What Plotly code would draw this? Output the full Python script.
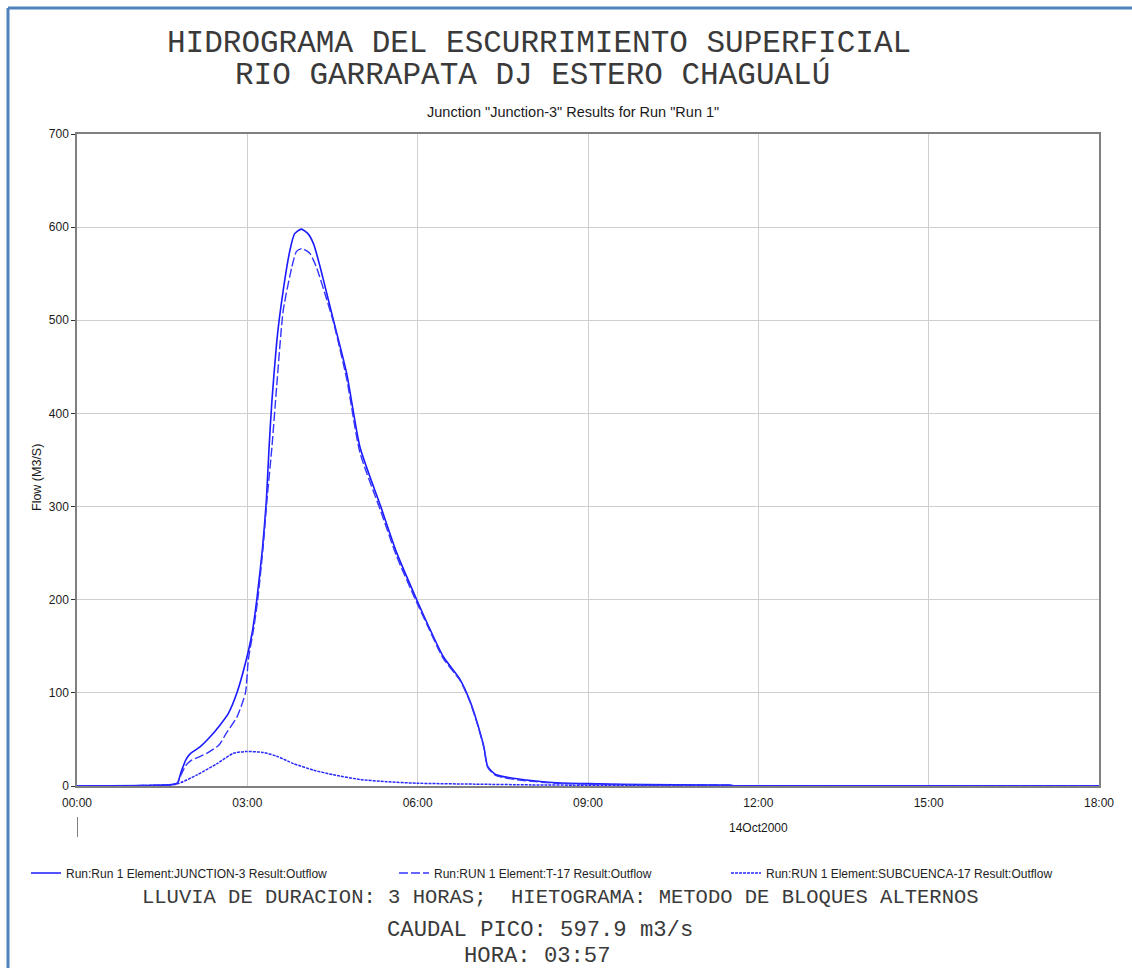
import plotly.graph_objects as go

# Simulation date and output time stamps (HH:MM) for each hydrograph
run_date = "2000-10-14"

junction_times = ["00:00", "01:10", "01:40", "01:46", "01:50", "01:55", "02:00", "02:10", "02:20",
                  "02:30", "02:40", "02:49", "02:58", "03:05", "03:10", "03:16", "03:20", "03:23",
                  "03:26", "03:31", "03:35", "03:45", "03:50", "03:57", "04:04", "04:10", "04:17",
                  "04:20", "04:31", "04:45", "04:59", "05:21", "05:38", "05:59", "06:10", "06:27",
                  "06:45", "06:55", "07:02", "07:10", "07:14", "07:23", "07:55", "08:27", "09:00",
                  "10:00", "11:30", "11:35", "12:00", "18:00"]
junction_flow = [0, 0.5, 1.5, 3, 15, 28, 35, 42, 52,
                 64, 78, 100, 132, 164, 200, 255, 305, 364,
                 414, 476, 511, 575, 593, 597.9, 593, 582, 557,
                 545, 500, 443, 364, 300, 250, 200, 175, 139,
                 114, 92, 71, 42, 21, 12, 6.4, 3.5, 2.5,
                 1.5, 1.0, 0.3, 0.2, 0]

t17_times = ["00:00", "01:10", "01:40", "01:46", "01:50", "01:55", "02:00", "02:17", "02:30",
             "02:38", "02:49", "02:58", "03:01", "03:07", "03:11", "03:17", "03:21", "03:26",
             "03:31", "03:38", "03:47", "03:52", "03:58", "04:06", "04:13", "04:24", "04:31",
             "04:45", "04:59", "05:21", "05:38", "05:59", "06:10", "06:27", "06:45", "06:55",
             "07:02", "07:10", "07:14", "07:23", "07:55", "08:27", "09:00", "10:00", "11:30",
             "11:35", "12:00", "18:00"]
t17_flow = [0, 0.5, 1.5, 3, 12, 22, 27, 35, 44,
            57, 74, 100, 135, 171, 200, 260, 310, 364,
            429, 511, 557, 574, 577, 572, 557, 522, 498,
            437, 358, 295, 246, 197, 173, 137, 113, 91,
            70, 41, 20, 11, 5.5, 3, 2, 1.2, 0.8,
            0.2, 0.1, 0]

sub_times = ["00:00", "01:10", "01:45", "02:07", "02:28", "02:45", "02:58", "03:17", "03:31",
             "03:49", "04:10", "04:31", "04:59", "05:27", "05:59", "07:00", "08:00", "09:00",
             "10:00", "12:00", "18:00"]
sub_flow = [0, 0.5, 2, 12, 24, 35, 37, 36, 32,
            24, 17, 12, 7, 4.6, 3, 2, 1.2, 0.8,
            0.5, 0.2, 0]

series_names = ["Run:Run 1 Element:JUNCTION-3 Result:Outflow",
                "Run:RUN 1 Element:T-17 Result:Outflow",
                "Run:RUN 1 Element:SUBCUENCA-17 Result:Outflow"]

y_ticks = [0, 100, 200, 300, 400, 500, 600, 700]

title_lines = ["HIDROGRAMA DEL ESCURRIMIENTO SUPERFICIAL", "RIO GARRAPATA DJ ESTERO CHAGUALÚ"]
subtitle = 'Junction "Junction-3" Results for Run "Run 1"'
footer_lines = ["LLUVIA DE DURACION: 3 HORAS;  HIETOGRAMA: METODO DE BLOQUES ALTERNOS",
                "CAUDAL PICO: 597.9 m3/s",
                "HORA: 03:57"]


def stamps(times):
    return [f"{run_date} {t}" for t in times]


# Plot area in pixels (page is 1132 x 968)
W, H = 1132, 968
L, R, T, B = 77, 1099, 134, 786


def px(x):
    return (x - L) / (R - L)


def py(y):
    return (B - y) / (B - T)


MONO = "Liberation Mono, Courier New, monospace"
NARROW = "Liberation Sans Narrow, Arial Narrow, Liberation Sans, Arial, sans-serif"
SANS = "Liberation Sans, Arial, sans-serif"

fig = go.Figure()

fig.add_trace(go.Scatter(
    x=stamps(junction_times), y=junction_flow, name=series_names[0], mode="lines",
    line=dict(color="#1a1aff", width=1.6, shape="spline", smoothing=0.6),
    legend="legend"))
fig.add_trace(go.Scatter(
    x=stamps(t17_times), y=t17_flow, name=series_names[1], mode="lines",
    line=dict(color="#3333ff", width=1.4, dash="9px,3px", shape="spline", smoothing=0.6),
    legend="legend2"))
fig.add_trace(go.Scatter(
    x=stamps(sub_times), y=sub_flow, name=series_names[2], mode="lines",
    line=dict(color="#2a2aff", width=1.5, dash="3px,1px", shape="spline", smoothing=0.6),
    legend="legend3"))

legend_common = dict(orientation="h", yanchor="middle", xanchor="left",
                     font=dict(family=NARROW, size=12, color="#222222"),
                     bgcolor="rgba(0,0,0,0)", itemwidth=30, tracegroupgap=0)

annotations = [
    dict(text=title_lines[0], x=px(539), y=py(44)),
    dict(text=title_lines[1], x=px(532), y=py(75)),
]
annotations = [dict(a, xref="paper", yref="paper", showarrow=False, xanchor="center",
                    yanchor="middle", font=dict(family=MONO, size=31, color="#3a3a3a"))
               for a in annotations]
annotations.append(dict(text=subtitle, x=px(573), y=py(112), xref="paper", yref="paper",
                        showarrow=False, xanchor="center", yanchor="middle",
                        font=dict(family=NARROW, size=14.5, color="#1a1a1a")))
annotations.append(dict(text="Flow (M3/S)", x=px(37), y=py(478), xref="paper", yref="paper",
                        showarrow=False, textangle=-90, xanchor="center", yanchor="middle",
                        font=dict(family=NARROW, size=12.5, color="#1a1a1a")))
annotations.append(dict(text="14Oct2000", x=f"{run_date} 12:00", y=py(828), xref="x",
                        yref="paper", showarrow=False, xanchor="center", yanchor="middle",
                        font=dict(family=NARROW, size=12, color="#1a1a1a")))
for text, cx, cy, size in [(footer_lines[0], 560, 898, 20.5),
                           (footer_lines[1], 540, 930, 22.2),
                           (footer_lines[2], 537, 956, 22.2)]:
    annotations.append(dict(text=text, x=px(cx), y=py(cy), xref="paper", yref="paper",
                            showarrow=False, xanchor="center", yanchor="middle",
                            font=dict(family=MONO, size=size, color="#3a3a3a")))

shapes = [
    # window frame
    dict(type="line", xref="paper", yref="paper", x0=px(8), x1=px(1132), y0=py(8), y1=py(8),
         line=dict(color="#4f81bd", width=3)),
    dict(type="line", xref="paper", yref="paper", x0=px(8), x1=px(8), y0=py(8), y1=py(968),
         line=dict(color="#4f81bd", width=3)),
    # date marker below the time axis
    dict(type="line", xref="x", yref="paper", x0=f"{run_date} 00:00", x1=f"{run_date} 00:00",
         y0=py(817), y1=py(837), line=dict(color="#555555", width=1.5)),
]

fig.update_layout(
    width=W, height=H,
    margin=dict(l=L, r=W - R, t=T, b=H - B, pad=0),
    paper_bgcolor="white", plot_bgcolor="white",
    showlegend=True,
    legend=dict(legend_common, x=px(26), y=py(873)),
    legend2=dict(legend_common, x=px(394), y=py(873)),
    legend3=dict(legend_common, x=px(726), y=py(873)),
    annotations=annotations,
    shapes=shapes,
    xaxis=dict(
        type="date", range=[f"{run_date} 00:00", f"{run_date} 18:00"],
        dtick=3 * 3600 * 1000, tick0=f"{run_date} 00:00", tickformat="%H:%M",
        showgrid=True, gridcolor="#cfcfcf", gridwidth=1,
        showline=True, linecolor="#808080", linewidth=1.5, mirror=True,
        ticks="outside", ticklen=5, tickcolor="rgba(0,0,0,0)",
        tickfont=dict(family=SANS, size=12, color="#1a1a1a"),
        zeroline=False, fixedrange=True),
    yaxis=dict(
        range=[0, 700], tickvals=y_ticks,
        showgrid=True, gridcolor="#cfcfcf", gridwidth=1,
        showline=True, linecolor="#808080", linewidth=1.5, mirror=True,
        ticks="outside", ticklen=4, tickcolor="#333333",
        tickfont=dict(family=SANS, size=12, color="#1a1a1a"),
        zeroline=False, fixedrange=True),
)

fig.write_html("out.html")
